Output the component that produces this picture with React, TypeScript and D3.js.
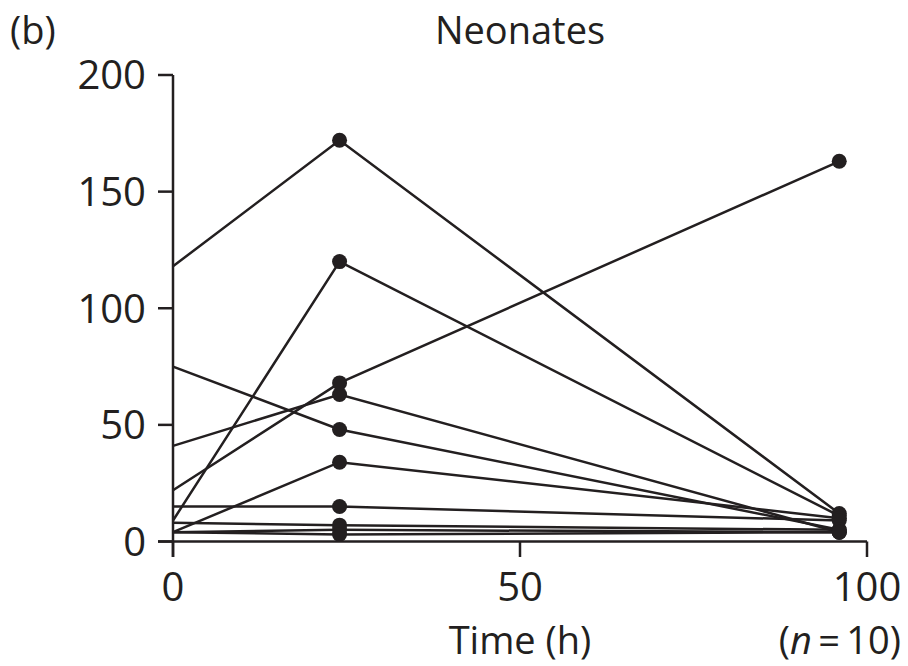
import React from "react";
import * as d3 from "d3";

const times = [0, 24, 96];
const subjectValues: number[][] = [
  [118, 172, 12],
  [75, 48, 5],
  [41, 63, 4],
  [22, 68, 163],
  [9, 120, 11],
  [4, 34, 10],
  [15, 15, 9],
  [8, 7, 5],
  [4, 5, 4],
  [4, 3, 4],
];
const xTicks = [0, 50, 100];
const yTicks = [0, 50, 100, 150, 200];
const title = "Neonates";
const panelLabel = "(b)";
const xLabel = "Time (h)";

const W = 908;
const H = 666;
const FONT = "'Open Sans', 'Noto Sans', sans-serif";
const INK = "#231f20";

export default function App() {
  const x = d3.scaleLinear().domain([0, 100]).range([173, 867]);
  const y = d3.scaleLinear().domain([0, 200]).range([541.5, 75]);
  const line = d3
    .line<[number, number]>()
    .x((d) => x(d[0]))
    .y((d) => y(d[1]));

  return (
    <svg
      width={W}
      height={H}
      style={{ position: "absolute", left: 0, top: 0, background: "#fff" }}
      fontFamily={FONT}
    >
      <rect width={W} height={H} fill="#fff" />
      {subjectValues.map((vals, i) => (
        <path
          key={"l" + i}
          d={line(vals.map((v, j) => [times[j], v] as [number, number])) || ""}
          fill="none"
          stroke={INK}
          strokeWidth={2.5}
        />
      ))}
      {subjectValues.map((vals, i) =>
        vals.map((v, j) =>
          j === 0 ? null : (
            <circle key={"c" + i + "-" + j} cx={x(times[j])} cy={y(v)} r={7.5} fill={INK} />
          )
        )
      )}
      <line x1={x(0)} x2={x(0)} y1={y(200)} y2={557} stroke={INK} strokeWidth={2.5} />
      {yTicks.map((t) => (
        <g key={"yt" + t}>
          <line x1={x(0) - 15} x2={x(0)} y1={y(t)} y2={y(t)} stroke={INK} strokeWidth={2.5} />
          <text x={146} y={y(t)} dy="0.36em" textAnchor="end" fontSize={40} fill={INK}>
            {t}
          </text>
        </g>
      ))}
      <line x1={x(0) - 15} x2={x(100)} y1={y(0)} y2={y(0)} stroke={INK} strokeWidth={2.5} />
      {xTicks.map((t) => (
        <g key={"xt" + t}>
          <line x1={x(t)} x2={x(t)} y1={y(0)} y2={557} stroke={INK} strokeWidth={2.5} />
          <text x={x(t)} y={601} textAnchor="middle" fontSize={40} fill={INK}>
            {t}
          </text>
        </g>
      ))}
      <text x={x(50)} y={654} textAnchor="middle" fontSize={38} fill={INK}>
        {xLabel}
      </text>
      <text x={901} y={654} textAnchor="end" fontSize={38} fill={INK}>
        (<tspan fontStyle="italic">n</tspan>
        {"\u2009=\u200910)"}
      </text>
      <text x={x(50)} y={44} textAnchor="middle" fontSize={38} fill={INK}>
        {title}
      </text>
      <text x={10} y={44} fontSize={38} fill={INK}>
        {panelLabel}
      </text>
    </svg>
  );
}
